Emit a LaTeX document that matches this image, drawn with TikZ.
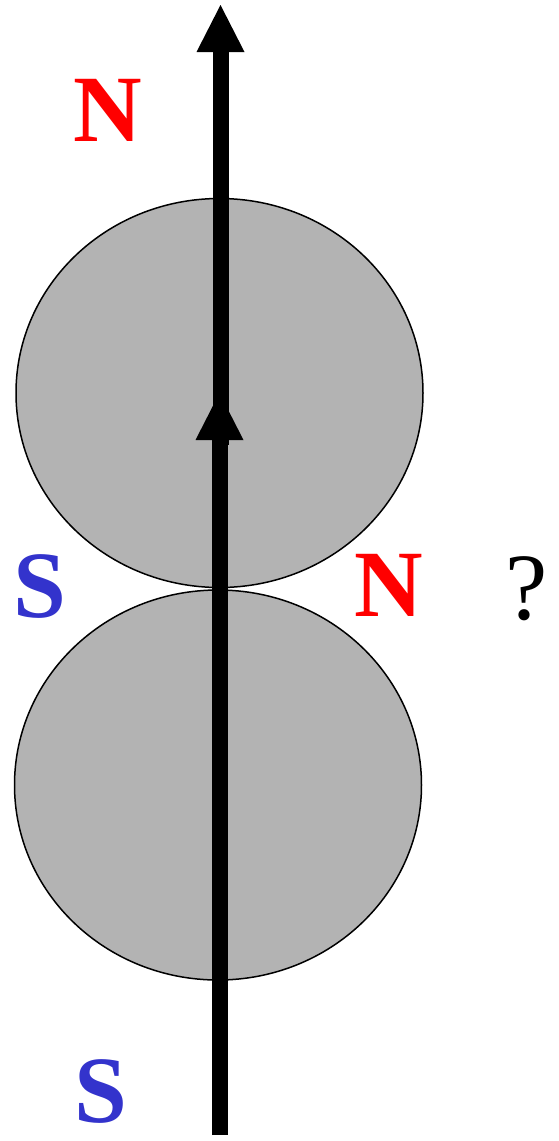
\documentclass[tikz,border=0pt]{standalone}
\usepackage{fontspec}
\setmainfont{Liberation Serif}
\usepackage{xcolor}
\usepackage{tikz}
\usetikzlibrary{positioning,arrows.meta,shapes.geometric}
\definecolor{npole}{HTML}{FF0000}
\definecolor{spole}{HTML}{3333CC}
\definecolor{body}{HTML}{B3B3B3}

\begin{document}
\begin{tikzpicture}[x=1pt,y=-1pt,font=\fontsize{95}{95}\selectfont,>={Triangle[length=47pt,width=48pt,line width=0pt]}]
\tikzstyle{mag}=[ellipse,draw,fill=body,line width=1.5pt,inner sep=0pt,minimum width=407pt,minimum height=389pt]
\tikzstyle{pole}=[inner sep=0pt,font=\fontsize{95}{95}\selectfont\bfseries]
\tikzstyle{field}=[->,line width=16pt]
\useasboundingbox (0,0) rectangle (558,1141);
\node[mag] (upper) at (219.5,393) {};
\node[mag,minimum height=390pt] (lower) at (218,785) {};
\coordinate (tail) at (219.5,1135);
\coordinate (base) at (220.5,445);
\coordinate (head) at (220.5,5);
\draw[field] (base) -- (head);
\draw[field] (tail) -- (upper.center);
\node[pole,text=npole] (ntop) at (108,110) {N};
\node[pole,text=spole] (sleft) at (40,587) {S};
\node[pole,text=npole] (nright) at (389,585) {N};
\node[inner sep=0pt] (ask) at (527,589) {?};
\node[pole,text=spole] (sbot) at (101,1091) {S};
\end{tikzpicture}
\end{document}
